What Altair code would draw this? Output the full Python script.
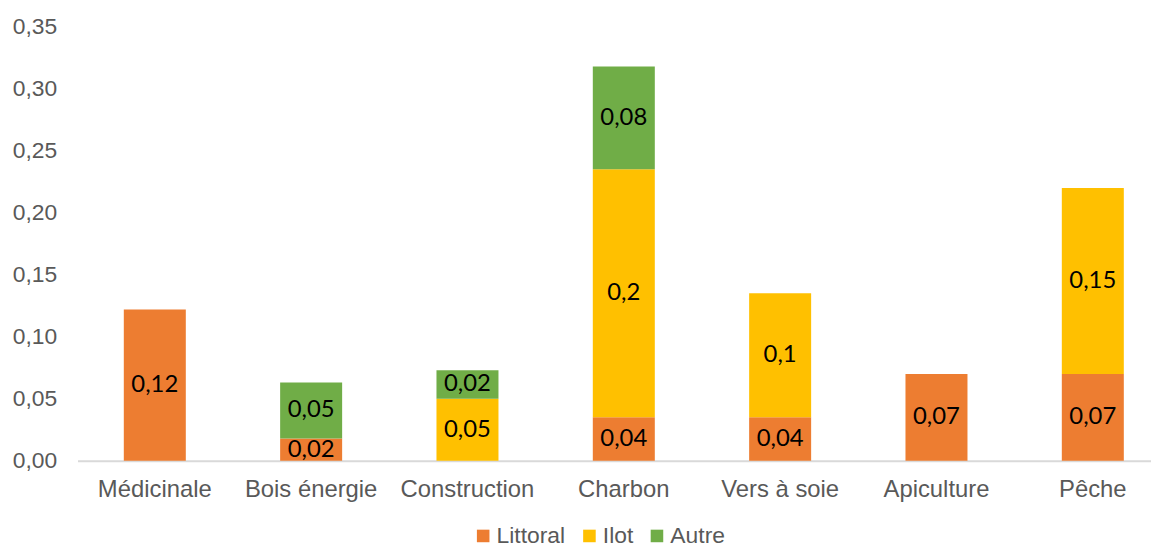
import altair as alt
import pandas as pd

categories = ["Médicinale", "Bois énergie", "Construction", "Charbon", "Vers à soie", "Apiculture", "Pêche"]
series = ["Littoral", "Ilot", "Autre"]
colors = ["#ED7D31", "#FFC000", "#70AD47"]

littoral = [0.122, 0.018, 0.0, 0.035, 0.035, 0.070, 0.070]
ilot = [0.0, 0.0, 0.050, 0.200, 0.100, 0.0, 0.150]
autre = [0.0, 0.045, 0.023, 0.083, 0.0, 0.0, 0.0]

littoral_labels = ["0,12", "0,02", "", "0,04", "0,04", "0,07", "0,07"]
ilot_labels = ["", "", "0,05", "0,2", "0,1", "", "0,15"]
autre_labels = ["", "0,05", "0,02", "0,08", "", "", ""]

y_ticks = [0.0, 0.05, 0.10, 0.15, 0.20, 0.25, 0.30, 0.35]

rows = []
for s_i, (s, vals, labs) in enumerate(zip(series, [littoral, ilot, autre],
                                            [littoral_labels, ilot_labels, autre_labels])):
    for c, v, l in zip(categories, vals, labs):
        if v > 0:
            rows.append({"cat": c, "serie": s, "value": v, "label": l, "ord": s_i})
df = pd.DataFrame(rows)

base = alt.Chart(df).transform_stack(
    stack="value", as_=["y0", "y1"], groupby=["cat"], sort=[alt.SortField("ord", order="ascending")]
).transform_calculate(mid="(datum.y0 + datum.y1) / 2")

x_scale = alt.Scale(paddingInner=0.6034, paddingOuter=0.235, align=0.63, round=False)
x_enc = alt.X(
    "cat:N", sort=categories, title=None, scale=x_scale,
    axis=alt.Axis(labelAngle=0, labelFont="Liberation Sans", labelFontSize=24, labelColor="#595959",
                  domainColor="#D9D9D9", domainWidth=2, ticks=False, labelPadding=17, grid=False),
)
y_scale = alt.Scale(domain=[0, 0.35], nice=False)

bars = base.mark_bar().encode(
    x=x_enc,
    y=alt.Y("y0:Q", scale=y_scale, title=None,
            axis=alt.Axis(values=y_ticks, labelExpr="replace(format(datum.value, '.2f'), '.', ',')",
                          labelFont="Liberation Sans", labelFontSize=23, labelColor="#595959",
                          domain=False, ticks=False, grid=False, labelPadding=21)),
    y2="y1:Q",
    color=alt.Color("serie:N", scale=alt.Scale(domain=series, range=colors), title=None,
                    legend=alt.Legend(orient="none", legendX=397, legendY=501, direction="horizontal",
                                      symbolType="square", symbolSize=160, symbolStrokeWidth=0,
                                      labelFont="Liberation Sans", labelFontSize=23, labelColor="#595959",
                                      labelOffset=2, columnPadding=12)),
)

texts = base.mark_text(font="Lato", fontSize=24, color="black", baseline="middle").encode(
    x=alt.X("cat:N", sort=categories, scale=x_scale),
    y=alt.Y("mid:Q", scale=y_scale),
    text="label:N",
)

chart = alt.layer(bars, texts).properties(
    width=1081, height=437,
    autosize=alt.AutoSizeParams(type="none"),
    padding={"left": 70, "top": 17, "right": 0, "bottom": 87},
).configure_view(stroke=None)

chart.save("out.html", embed_options={"renderer": "svg", "actions": False})
